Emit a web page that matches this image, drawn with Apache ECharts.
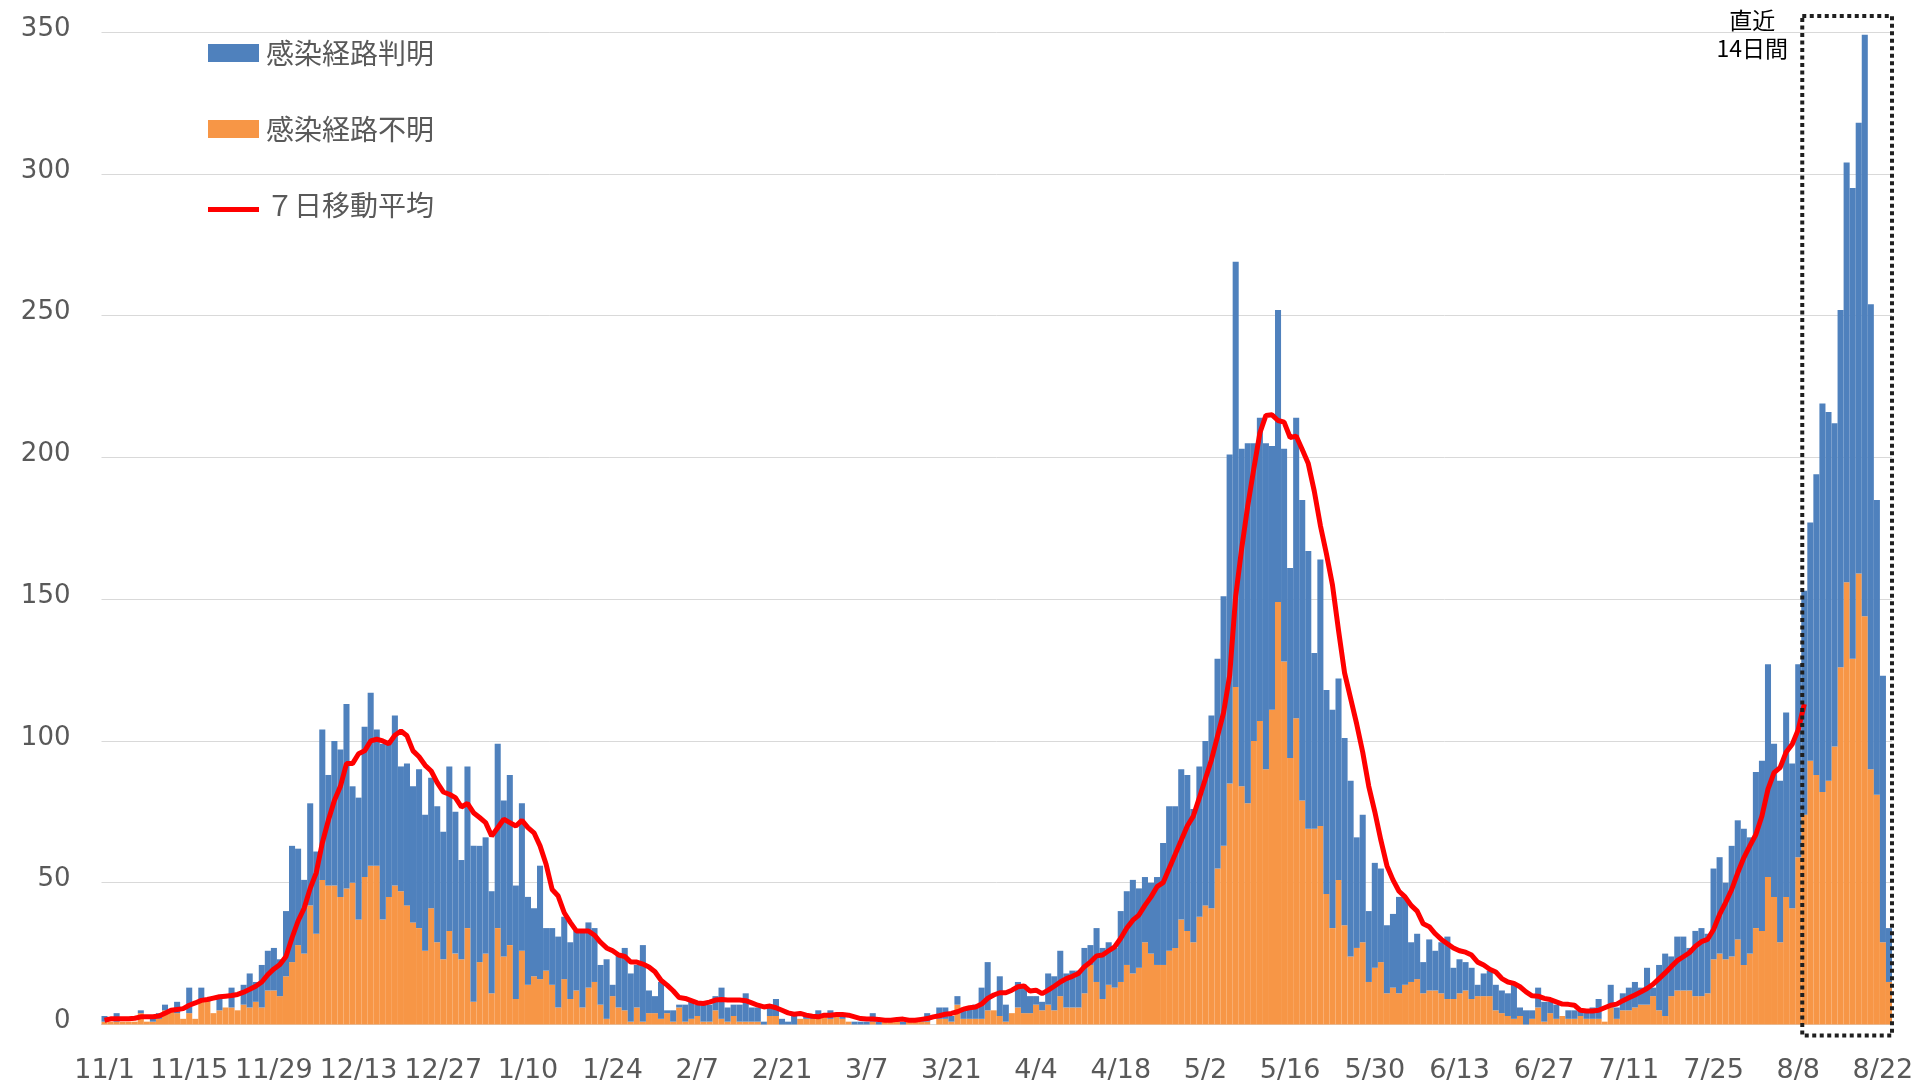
<!DOCTYPE html>
<html><head><meta charset="utf-8">
<script src="https://cdn.jsdelivr.net/npm/echarts@6/dist/echarts.min.js"></script>
<style>html,body{margin:0;padding:0;background:#fff}#c{width:1917px;height:1085px}</style>
</head><body><div id="c"></div>
<script>
// ---- data ----
const firstDay = '2020-11-01';
const slotCount = 296; // one bar per day
const seriesNames = ['感染経路判明', '感染経路不明', '７日移動平均'];
const boxStartIndex = 281; // left edge of the dotted "latest 14 days" frame
const boxLabel = '直近\n14日間';
const yMin = 0, yMax = 350, yInterval = 50;

// 感染経路不明 (orange, bottom of stack)
const unknownRoute = [
1,1,1,1,1,1,4,1,1,2,
5,5,4,2,4,2,8,8,4,5,
6,6,5,7,6,8,6,12,12,10,
17,22,28,25,42,32,51,49,49,45,
48,50,37,52,56,56,37,45,49,47,
42,36,34,26,41,29,23,33,25,23,
34,8,22,25,11,34,24,28,9,26,
14,17,16,19,14,6,16,9,12,6,
13,15,7,2,10,6,5,1,6,1,
4,4,2,4,1,6,1,2,3,1,
1,5,2,1,3,1,1,1,1,0,
3,3,0,0,0,2,2,2,3,3,
2,3,2,1,0,0,0,1,0,1,
1,1,0,1,1,1,1,0,2,2,
1,7,2,2,2,2,5,5,3,1,
4,6,4,4,7,5,7,5,10,6,
6,6,11,21,15,9,14,13,15,21,
18,20,29,25,21,21,26,27,37,33,
29,38,42,41,55,63,85,119,84,78,
100,107,90,111,149,128,94,108,79,69,
69,70,46,34,51,35,24,27,29,15,
20,22,11,13,11,14,15,16,11,12,
12,11,9,9,11,12,9,10,10,10,
5,4,3,2,3,0,2,6,1,4,
2,3,2,2,3,2,2,2,1,6,
2,5,5,6,7,7,10,5,3,10,
12,12,12,10,10,11,23,25,23,24,
30,21,25,34,33,52,45,29,45,41,
59,74,93,88,82,86,98,126,156,129,
159,144,90,81,29,15
];

// 感染経路判明 (blue, stacked on top)
const knownRoute = [
2,0,3,0,0,0,1,0,1,2,
2,0,4,0,9,0,5,1,0,4,
0,7,0,7,12,7,15,14,15,13,
23,41,34,26,36,29,53,39,51,52,
65,34,43,53,61,48,62,54,60,44,
50,48,56,48,46,48,45,58,50,35,
57,55,41,41,36,65,55,60,40,52,
31,24,40,15,20,25,22,20,21,27,
23,19,14,21,4,19,22,17,15,27,
8,6,13,1,4,1,6,6,4,7,
6,5,11,5,4,6,10,5,5,1,
4,6,2,1,3,0,1,1,2,0,
3,0,2,0,1,1,1,3,1,1,
1,1,1,1,1,1,3,0,4,4,
2,3,4,4,5,11,17,0,14,6,
0,9,10,6,3,3,11,12,16,12,
13,13,16,7,19,18,15,14,25,26,
33,28,23,25,31,43,51,50,53,55,
47,53,58,68,74,88,116,150,119,127,
105,107,115,93,103,75,67,106,106,98,
62,94,72,77,71,66,62,39,45,25,
37,33,24,26,34,31,14,16,11,18,
14,18,22,11,12,10,11,4,8,9,
9,8,8,12,3,5,3,7,7,4,
5,0,3,3,2,3,4,7,0,8,
4,6,8,9,6,13,3,16,22,14,
19,19,15,23,24,21,32,34,27,39,
42,48,41,55,60,75,54,57,65,51,
68,79,84,106,137,130,114,126,148,166,
159,205,164,104,94,19
];

// ７日移動平均 (red line)
const movingAvg7 = [
1.5,2,2,2,2,2.2,2.7,2.7,2.7,3,
4,5,5.3,5.6,6.8,7.6,8.5,8.8,9.3,9.8,
10,10.2,10.6,11.4,12.4,13.5,15,17.6,19.6,21.2,
24,30.6,36.5,41,48,53.5,64,72,79,84,
92,92,95.5,96.5,100,100.6,100,99,102,103.5,
101.8,96.5,94.4,91.4,89.4,85.3,82,81.2,80,76.7,
78,74.7,73,71.2,66.5,69.4,72.4,71.2,70,72,
69.4,67.6,63,56.5,47.6,45.3,39.4,36,33,33,
33,31.5,29,27,26,24.5,24,22,22,21.3,
20.3,18.6,15.6,13.9,11.9,9.5,9.2,8.4,7.6,7.4,
7.9,8.6,8.8,8.6,8.6,8.6,8.4,7.6,6.8,6.2,
6.5,5.9,5,4.1,3.6,3.9,3.3,2.9,2.7,3.3,
3.3,3.5,3.5,3.3,2.7,2.1,1.9,1.9,1.8,1.5,
1.5,1.8,1.9,1.5,1.5,1.8,2.1,2.7,3.1,3.6,
3.9,4.5,5.4,5.9,6.2,7.2,9.2,10.4,11.2,11.2,
12.1,13.3,13.6,11.8,12.1,10.9,12.1,13.5,15,16.2,
17,18,20.4,22,24.2,24.5,26,27.4,30.4,34,
36.8,38.6,42,45,48.6,50,55,60,65,70,
73.5,80,86.7,93.4,101.7,110,123,151,168,183,
196,208.6,214.8,215,213,212.4,207,207.5,202.8,197.8,
188,176,166,155,139,124,115,106,96,84,
75,65,56,51,47,45,42,40,35.5,34.5,
32,30,28.5,27,26,25.5,24.5,22,21,19.5,
18.5,16.2,15,14.5,13.3,11.5,10.1,10,9.2,8.8,
8,7.2,7.1,6.8,5,4.8,4.8,5,5.9,6.8,
7.2,8.4,9.4,10.4,11.5,12.7,14.2,16.2,18.2,20.4,
22.5,23.9,25.3,27.6,29.2,30,33.5,38.8,43,47.6,
53.5,58.8,63,67,73.5,83,88.8,90.6,96,98.8,
104,113
];

// ---- category labels (one per day) ----
const categories = [];
(function () {
  const p = firstDay.split('-').map(Number);
  for (let i = 0; i < slotCount; i++) {
    const d = new Date(p[0], p[1] - 1, p[2] + i);
    categories.push((d.getMonth() + 1) + '/' + d.getDate());
  }
})();

const chart = echarts.init(document.getElementById('c'), null, { renderer: 'canvas' });
const axisFont = 'DejaVu Sans';
const cjkFont = '"Noto Sans CJK JP", "Noto Sans", sans-serif';
// legend line icon: red band in the lower half of a 51x18 box
const lineIcon = 'path://M0,0L51,0L51,0Z M0,11L51,11L51,16L0,16Z M0,18L51,18L51,18Z';

chart.setOption({
  animation: false,
  backgroundColor: '#ffffff',
  grid: { left: 101.5, right: 25, top: 32, bottom: 60.5, containLabel: false },
  legend: {
    orient: 'vertical', left: 203, top: 33,
    itemWidth: 51, itemHeight: 18, itemGap: 46,
    selectedMode: false,
    textStyle: { fontSize: 28, color: '#595959', fontFamily: cjkFont, lineHeight: 30, padding: [0, 0, 0, 2] },
    data: [
      { name: seriesNames[0], icon: 'rect' },
      { name: seriesNames[1], icon: 'rect' },
      { name: seriesNames[2], icon: lineIcon }
    ]
  },
  xAxis: {
    type: 'category', data: categories, boundaryGap: true,
    axisTick: { show: false },
    axisLine: { lineStyle: { color: '#d9d9d9', width: 1 } },
    axisLabel: { interval: 13, margin: 33, fontSize: 27, color: '#595959', fontFamily: axisFont }
  },
  yAxis: {
    type: 'value', min: yMin, max: yMax, interval: yInterval,
    axisLine: { show: false }, axisTick: { show: false },
    splitLine: { lineStyle: { color: '#d9d9d9', width: 1 } },
    axisLabel: { fontSize: 26, color: '#595959', margin: 31, fontFamily: axisFont,
                 verticalAlign: 'bottom', lineHeight: 6 }
  },
  series: [
    { name: seriesNames[1], type: 'bar', stack: 'cases', data: unknownRoute,
      barCategoryGap: '0%', itemStyle: { color: '#F79646' } },
    { name: seriesNames[0], type: 'bar', stack: 'cases', data: knownRoute,
      barCategoryGap: '0%', itemStyle: { color: '#4F81BD' } },
    { name: seriesNames[2], type: 'line', data: movingAvg7, symbol: 'none', showSymbol: false,
      z: 5, lineStyle: { color: '#FF0000', width: 5 }, itemStyle: { color: '#FF0000' } }
  ]
});

// ---- dotted frame around the latest days, positioned through the axes ----
const c0 = chart.convertToPixel({ xAxisIndex: 0 }, boxStartIndex);
const c1 = chart.convertToPixel({ xAxisIndex: 0 }, boxStartIndex + 1);
const band = c1 - c0;
const boxLeft = c0 - band / 2 + 1;
const boxRight = chart.convertToPixel({ xAxisIndex: 0 }, slotCount - 1) + band / 2;
const boxTop = chart.convertToPixel({ yAxisIndex: 0 }, yMax) - 16;
const boxBottom = chart.convertToPixel({ yAxisIndex: 0 }, yMin) + 11;

chart.setOption({
  graphic: [
    { type: 'rect', z: 100,
      shape: { x: boxLeft, y: boxTop, width: boxRight - boxLeft, height: boxBottom - boxTop },
      style: { fill: 'none', stroke: '#1f1f1f', lineWidth: 4, lineDash: [4, 3.5] } },
    { type: 'text', z: 100, x: boxLeft - 50, y: 6,
      style: { text: boxLabel, fontSize: 23, fontFamily: cjkFont, fill: '#000000',
               align: 'center', verticalAlign: 'top', lineHeight: 28 } }
  ]
});
</script>
</body></html>
